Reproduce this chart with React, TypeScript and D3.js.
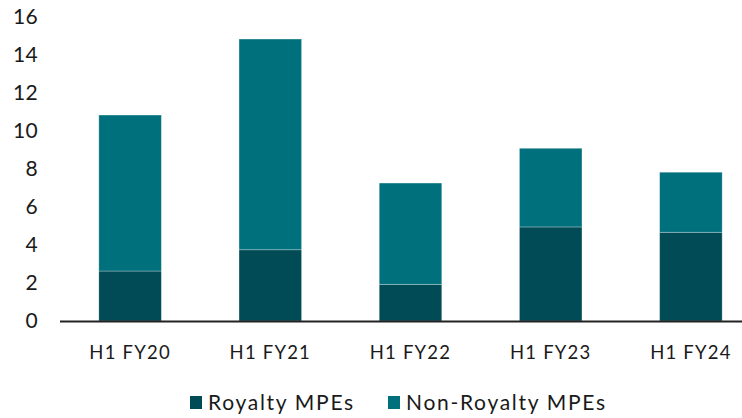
import React from "react";
import * as d3 from "d3";

const categories = ["H1 FY20", "H1 FY21", "H1 FY22", "H1 FY23", "H1 FY24"];
const royalty = [2.63, 3.75, 1.93, 4.95, 4.67];
const nonRoyalty = [8.21, 11.09, 5.33, 4.14, 3.16];
const yTicks = [0, 2, 4, 6, 8, 10, 12, 14, 16];
const seriesNames = ["Royalty MPEs", "Non-Royalty MPEs"];
const colors = ["#004B55", "#00707C"];

const W = 742;
const H = 418;
const FONT = "Lato, 'Open Sans', sans-serif";

export default function App() {
  const x = d3.scaleBand<string>().domain(categories).range([60, 761]).paddingInner(0.554).paddingOuter(0.277);
  const y = d3.scaleLinear().domain([0, 16]).range([321, 17]);

  const rows = categories.map((c, i) => ({ cat: c, royalty: royalty[i], nonRoyalty: nonRoyalty[i] }));
  const stack = d3.stack<any>().keys(["royalty", "nonRoyalty"])(rows);

  return (
    <svg width={W} height={H} style={{ position: "absolute", left: 0, top: 0 }}>
      <rect width={W} height={H} fill="#fff" />
      {yTicks.map((t) => (
        <text key={t} x={38} y={y(t)} dy="0.35em" textAnchor="end" fontFamily={FONT} fontSize={21} letterSpacing={0.3} fill="#1a1a1a">
          {t}
        </text>
      ))}
      {stack.map((s, si) =>
        s.map((d, i) => (
          <rect
            key={si + "-" + i}
            x={x(categories[i])}
            y={y(d[1])}
            width={x.bandwidth()}
            height={y(d[0]) - y(d[1])}
            fill={colors[si]}
            stroke="#ffffff"
            strokeOpacity={0.35}
            strokeWidth={0.8}
          />
        ))
      )}
      <line x1={60} x2={W} y1={y(0) + 0.5} y2={y(0) + 0.5} stroke="#222" strokeWidth={2} />
      {categories.map((c) => (
        <text key={c} x={x(c)! + x.bandwidth() / 2} y={353} dy="0.35em" textAnchor="middle" fontFamily={FONT} fontSize={18.5} letterSpacing={1.2} fill="#1a1a1a">
          {c}
        </text>
      ))}
      {seriesNames.map((n, i) => {
        const lx = [190, 388][i];
        return (
          <g key={n}>
            <rect x={lx} y={396} width={12} height={13} fill={colors[i]} />
            <text x={lx + 18} y={410} fontFamily={FONT} fontSize={21} letterSpacing={1.7} fill="#1a1a1a">
              {n}
            </text>
          </g>
        );
      })}
    </svg>
  );
}
